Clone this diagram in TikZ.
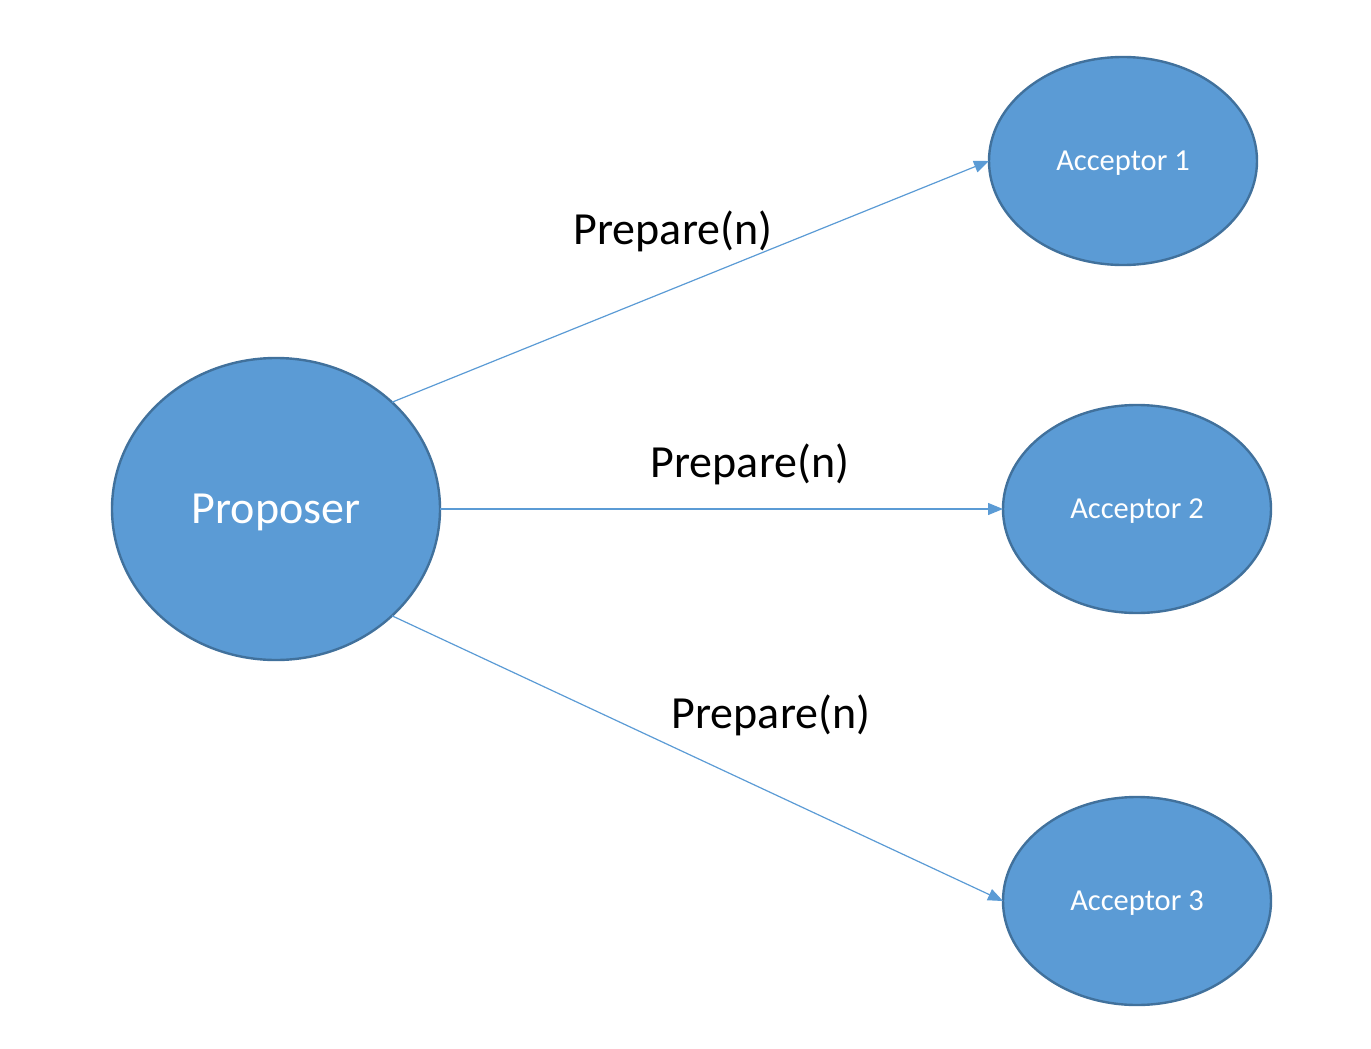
\documentclass[tikz,border=0pt]{standalone}
\usepackage{fontspec}
\setmainfont{Carlito}
\usetikzlibrary{shapes.geometric,arrows.meta}
\definecolor{nodefill}{HTML}{5B9BD5}
\definecolor{nodeline}{HTML}{41719C}
\tikzset{x=1pt, y=-1pt,
    every node/.style={font=\fontsize{30.5}{36}\selectfont},
    role/.style={ellipse, fill=nodefill, draw=nodeline, line width=2.4pt,
        text=white, outer sep=0pt, text depth=0pt},
    proposer/.style={role, minimum width=328pt, minimum height=302pt,
        font=\fontsize{46}{55}\selectfont},
    acceptor/.style={role, minimum width=268pt, minimum height=208pt},
    msg/.style={draw=nodefill, line width=1.2pt,
        -{Triangle[length=15pt,width=12pt]}},
    msglabel/.style={font=\fontsize{46}{55}\selectfont},
    }
\begin{document}
\begin{tikzpicture}
\useasboundingbox (0,0) rectangle (1371,1049);
\node[proposer] (prop) at (276,509) {Proposer};
\node[acceptor] (acc1) at (1123,161) {Acceptor 1};
\node[acceptor] (acc2) at (1137,509) {Acceptor 2};
\node[acceptor] (acc3) at (1137,901) {Acceptor 3};
% messages
\draw[msg] (prop.north east) -- (acc1.west);
\draw[msg] (prop.east) -- (acc2.west);
\draw[msg] (prop.south east) -- (acc3.west);
\node[msglabel] (lbl1) at (673,231) {Prepare(n)};
\node[msglabel] (lbl2) at (750,464) {Prepare(n)};
\node[msglabel] (lbl3) at (771,715) {Prepare(n)};
\end{tikzpicture}
\end{document}
